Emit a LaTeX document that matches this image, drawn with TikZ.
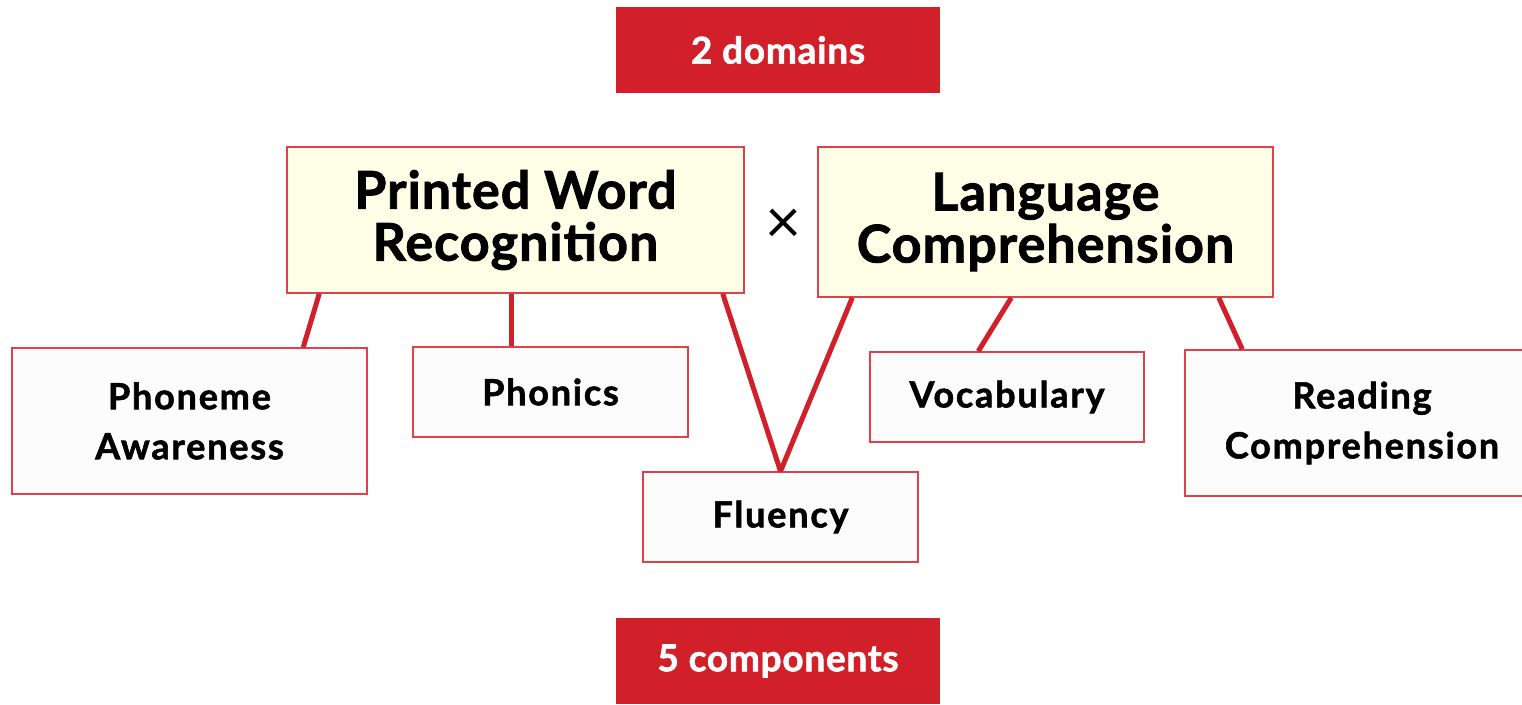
\documentclass[tikz,border=0pt]{standalone}
\usepackage{fontspec}
\setmainfont{Lato}[BoldFeatures={FakeBold=1.6}]
\usetikzlibrary{calc}
\definecolor{lrred}{HTML}{D2202A}
\definecolor{lrline}{HTML}{E0404A}
\definecolor{lrcream}{HTML}{FFFFE8}
\begin{document}
\begin{tikzpicture}[x=1pt, y=-1pt]
            \tikzstyle{every node}+=[inner sep=0pt, align=center, font=\bfseries]
            \tikzstyle{banner}=[fill=lrred, text=white, minimum width=324pt, minimum height=86pt, font=\bfseries\fontsize{37}{40}\selectfont\addfontfeatures{LetterSpace=2}]
            \tikzstyle{topbox}=[draw=lrline, line width=1.5pt, fill=lrcream, font=\bfseries\fontsize{52}{52}\selectfont\addfontfeatures{LetterSpace=2}]
            \tikzstyle{partbox}=[draw=lrline, line width=1.5pt, fill=white!99!black, font=\bfseries\fontsize{36}{50}\selectfont\addfontfeatures{LetterSpace=5}]
            \tikzstyle{link}=[draw=lrred, line width=5pt]
            \useasboundingbox (0, 0) rectangle (1522, 704);
            \node [banner] (dom) at (778, 50) {2 domains};
            \node [banner] (comp) at (778, 661) {5 components};
            \node [topbox, minimum width=457pt, minimum height=146pt] (pwr) at (515.5, 220) {Printed Word\\Recognition};
            \node [topbox, minimum width=455pt, minimum height=150pt] (lc) at (1045.5, 222) {Language\\Comprehension};
            \node [font=\mdseries\fontsize{62}{62}\selectfont] (times) at (783, 226) {×};
            \node [partbox, minimum width=355pt, minimum height=146pt] (pa) at (189.5, 421) {Phoneme\\Awareness};
            \node [partbox, minimum width=275pt, minimum height=90pt] (phon) at (550.5, 392) {Phonics};
            \node [partbox, minimum width=275pt, minimum height=90pt] (flu) at (780.5, 517) {Fluency};
            \node [partbox, minimum width=274pt, minimum height=90pt] (voc) at (1007, 397) {Vocabulary};
            \node [partbox, minimum width=354pt, minimum height=146pt] (rc) at (1362, 423) {Reading\\Comprehension};
            \draw [link] ([xshift=33pt]pwr.south west) -- ([xshift=292pt]pa.north west);
            \draw [link] ([xshift=-4.5pt]pwr.south) -- ([xshift=-39.5pt]phon.north);
            \draw [link] ([xshift=-22pt]pwr.south east) -- (flu.north);
            \draw [link] ([xshift=35pt]lc.south west) -- (flu.north);
            \draw [link] ([xshift=194pt]lc.south west) -- ([xshift=109pt]voc.north west);
            \draw [link] ([xshift=-55pt]lc.south east) -- ([xshift=58pt]rc.north west);
        \end{tikzpicture}
\end{document}
